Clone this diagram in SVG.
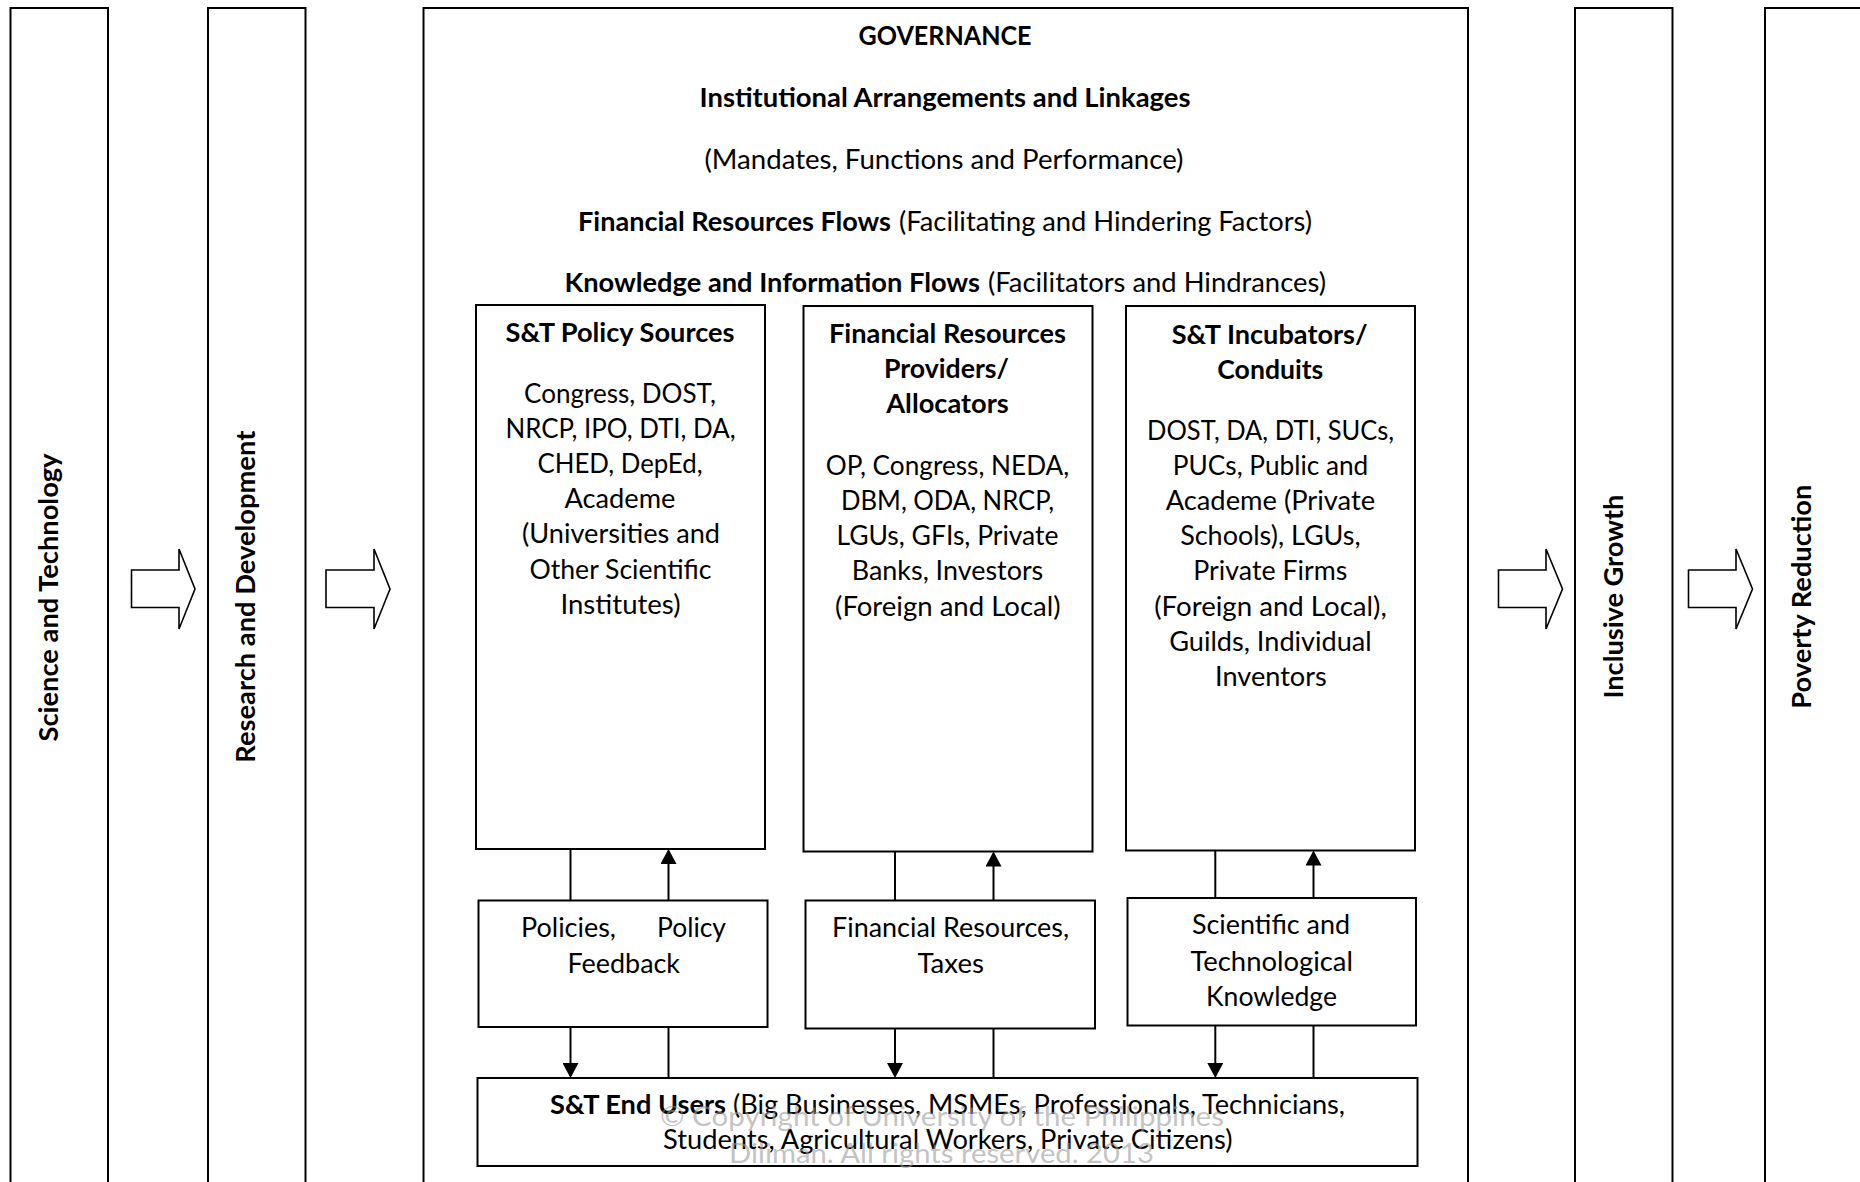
<svg xmlns="http://www.w3.org/2000/svg" width="1860" height="1182" viewBox="0 0 1860 1182">
<style>
.box{fill:#fff;stroke:#000;stroke-width:2}
.t{font-family:Lato,"Open Sans","Liberation Sans",sans-serif;font-size:26px;fill:#000;text-anchor:middle}
.s{text-anchor:start}
.b{font-weight:bold}
.conn{stroke:#000;stroke-width:2;fill:none}
.blk{fill:#fff;stroke:#000;stroke-width:1.6;stroke-linejoin:miter}
.wm{font-family:Lato,"Open Sans","Liberation Sans",sans-serif;font-size:26px;fill:#9a9a9a;fill-opacity:0.6;text-anchor:middle}
</style>
<defs>
<marker id="ah" markerUnits="userSpaceOnUse" markerWidth="15" markerHeight="16" refX="13" refY="8" orient="auto">
<path d="M0,0 L15,8 L0,16 Z" fill="#000"/>
</marker>
</defs>
<rect width="1860" height="1182" fill="#fff"/>

<g id="node-science-technology">
<rect class="box" x="10.5" y="8" width="97.5" height="1200"/>
<text class="t b" transform="translate(58,597.5) rotate(-90)" textLength="288" lengthAdjust="spacingAndGlyphs">Science and Technology</text>
</g>
<g id="node-research-development">
<rect class="box" x="208" y="8" width="97.5" height="1200"/>
<text class="t b" transform="translate(255,596.7) rotate(-90)" textLength="332" lengthAdjust="spacingAndGlyphs">Research and Development</text>
</g>
<g id="node-governance">
<rect class="box" x="423.5" y="8" width="1044.5" height="1200"/>
<text class="t b" x="945" y="45" textLength="173" lengthAdjust="spacingAndGlyphs">GOVERNANCE</text>
<text class="t b" x="945" y="107" textLength="491" lengthAdjust="spacingAndGlyphs">Institutional Arrangements and Linkages</text>
<text class="t" x="944" y="168.5" textLength="479" lengthAdjust="spacingAndGlyphs">(Mandates, Functions and Performance)</text>
<text class="t s b" x="578" y="230.5" textLength="313" lengthAdjust="spacingAndGlyphs">Financial Resources Flows</text>
<text class="t s" x="899" y="230.5" textLength="413" lengthAdjust="spacingAndGlyphs">(Facilitating and Hindering Factors)</text>
<text class="t s b" x="564.5" y="292" textLength="415.5" lengthAdjust="spacingAndGlyphs">Knowledge and Information Flows</text>
<text class="t s" x="988" y="292" textLength="338" lengthAdjust="spacingAndGlyphs">(Facilitators and Hindrances)</text>
</g>
<g id="node-inclusive-growth">
<rect class="box" x="1575" y="8" width="97.5" height="1200"/>
<text class="t b" transform="translate(1623,596.6) rotate(-90)" textLength="204" lengthAdjust="spacingAndGlyphs">Inclusive Growth</text>
</g>
<g id="node-poverty-reduction">
<rect class="box" x="1765" y="8" width="120" height="1200"/>
<text class="t b" transform="translate(1811,596.7) rotate(-90)" textLength="224" lengthAdjust="spacingAndGlyphs">Poverty Reduction</text>
</g>

<g id="node-policy-sources">
<rect class="box" x="476" y="305" width="289" height="544"/>
<text class="t b" x="620" y="341.5" textLength="229" lengthAdjust="spacingAndGlyphs">S&amp;T Policy Sources</text>
<text class="t" x="620" y="403" textLength="192" lengthAdjust="spacingAndGlyphs">Congress, DOST,</text>
<text class="t" x="620.5" y="438" textLength="230" lengthAdjust="spacingAndGlyphs">NRCP, IPO, DTI, DA,</text>
<text class="t" x="620" y="473" textLength="165" lengthAdjust="spacingAndGlyphs">CHED, DepEd,</text>
<text class="t" x="620" y="508.3" textLength="111" lengthAdjust="spacingAndGlyphs">Academe</text>
<text class="t" x="621" y="543.4" textLength="198" lengthAdjust="spacingAndGlyphs">(Universities and</text>
<text class="t" x="620.5" y="578.6" textLength="182" lengthAdjust="spacingAndGlyphs">Other Scientific</text>
<text class="t" x="620.5" y="613.7" textLength="120" lengthAdjust="spacingAndGlyphs">Institutes)</text>
</g>
<g id="node-financial-providers">
<rect class="box" x="803.5" y="306" width="289" height="545.5"/>
<text class="t b" x="947.5" y="343" textLength="237" lengthAdjust="spacingAndGlyphs">Financial Resources</text>
<text class="t b" x="946.5" y="378" textLength="125" lengthAdjust="spacingAndGlyphs">Providers/</text>
<text class="t b" x="947.5" y="413" textLength="122.5" lengthAdjust="spacingAndGlyphs">Allocators</text>
<text class="t" x="947.5" y="475" textLength="243.5" lengthAdjust="spacingAndGlyphs">OP, Congress, NEDA,</text>
<text class="t" x="947.5" y="510" textLength="213" lengthAdjust="spacingAndGlyphs">DBM, ODA, NRCP,</text>
<text class="t" x="947.5" y="545.3" textLength="222" lengthAdjust="spacingAndGlyphs">LGUs, GFIs, Private</text>
<text class="t" x="947.5" y="580.4" textLength="191.5" lengthAdjust="spacingAndGlyphs">Banks, Investors</text>
<text class="t" x="947.8" y="615.6" textLength="225.5" lengthAdjust="spacingAndGlyphs">(Foreign and Local)</text>
</g>
<g id="node-incubators">
<rect class="box" x="1126" y="306" width="289" height="544.5"/>
<text class="t b" x="1269.7" y="343.6" textLength="196" lengthAdjust="spacingAndGlyphs">S&amp;T Incubators/</text>
<text class="t b" x="1270.3" y="378.8" textLength="106" lengthAdjust="spacingAndGlyphs">Conduits</text>
<text class="t" x="1270.6" y="439.8" textLength="247" lengthAdjust="spacingAndGlyphs">DOST, DA, DTI, SUCs,</text>
<text class="t" x="1270.5" y="475" textLength="195.5" lengthAdjust="spacingAndGlyphs">PUCs, Public and</text>
<text class="t" x="1270.4" y="510" textLength="209.5" lengthAdjust="spacingAndGlyphs">Academe (Private</text>
<text class="t" x="1270.4" y="545.3" textLength="180.5" lengthAdjust="spacingAndGlyphs">Schools), LGUs,</text>
<text class="t" x="1270.3" y="580.4" textLength="154" lengthAdjust="spacingAndGlyphs">Private Firms</text>
<text class="t" x="1270.5" y="615.6" textLength="232.5" lengthAdjust="spacingAndGlyphs">(Foreign and Local),</text>
<text class="t" x="1270.5" y="650.7" textLength="202.5" lengthAdjust="spacingAndGlyphs">Guilds, Individual</text>
<text class="t" x="1270.9" y="685.9" textLength="111.7" lengthAdjust="spacingAndGlyphs">Inventors</text>
</g>

<g id="node-policies">
<rect class="box" x="478.5" y="900.5" width="289" height="126.5"/>
<text class="t s" x="521" y="936.7" textLength="95" lengthAdjust="spacingAndGlyphs">Policies,</text>
<text class="t s" x="657" y="936.7" textLength="69" lengthAdjust="spacingAndGlyphs">Policy</text>
<text class="t" x="623.8" y="972.7" textLength="112.5" lengthAdjust="spacingAndGlyphs">Feedback</text>
</g>
<g id="node-financial-resources">
<rect class="box" x="805.5" y="900.5" width="289.5" height="128"/>
<text class="t" x="950.5" y="936.7" textLength="237" lengthAdjust="spacingAndGlyphs">Financial Resources,</text>
<text class="t" x="950.7" y="972.7" textLength="66.5" lengthAdjust="spacingAndGlyphs">Taxes</text>
</g>
<g id="node-st-knowledge">
<rect class="box" x="1127.5" y="898" width="288.5" height="127.5"/>
<text class="t" x="1271" y="934.3" textLength="158" lengthAdjust="spacingAndGlyphs">Scientific and</text>
<text class="t" x="1271.7" y="970.5" textLength="162.5" lengthAdjust="spacingAndGlyphs">Technological</text>
<text class="t" x="1271.5" y="1005.8" textLength="131" lengthAdjust="spacingAndGlyphs">Knowledge</text>
</g>
<g id="node-end-users">
<rect class="box" x="477.5" y="1078" width="940" height="88"/>
<text class="t s b" x="550" y="1114.3" textLength="176" lengthAdjust="spacingAndGlyphs">S&amp;T End Users</text>
<text class="t s" x="733" y="1114.3" textLength="612" lengthAdjust="spacingAndGlyphs">(Big Businesses, MSMEs, Professionals, Technicians,</text>
<text class="t" x="947.8" y="1149" textLength="569.5" lengthAdjust="spacingAndGlyphs">Students, Agricultural Workers, Private Citizens)</text>
</g>

<g id="connectors">
<polygon class="blk" points="131.5,570 179,570 179,549 195,589 179,629 179,607.5 131.5,607.5"/>
<polygon class="blk" points="326,570 374,570 374,549 390,589 374,629 374,607.5 326,607.5"/>
<polygon class="blk" points="1498.5,570 1546,570 1546,549 1562.5,589 1546,629 1546,607.5 1498.5,607.5"/>
<polygon class="blk" points="1688.5,570 1736,570 1736,549 1752.5,589 1736,629 1736,607.5 1688.5,607.5"/>

<line class="conn" x1="570.5" y1="849" x2="570.5" y2="900.5"/>
<line class="conn" x1="668.5" y1="900.5" x2="668.5" y2="851" marker-end="url(#ah)"/>
<line class="conn" x1="570.5" y1="1027" x2="570.5" y2="1076" marker-end="url(#ah)"/>
<line class="conn" x1="668.5" y1="1078" x2="668.5" y2="1027"/>

<line class="conn" x1="895" y1="851.5" x2="895" y2="900.5"/>
<line class="conn" x1="993.5" y1="900.5" x2="993.5" y2="853.5" marker-end="url(#ah)"/>
<line class="conn" x1="895" y1="1028.5" x2="895" y2="1076" marker-end="url(#ah)"/>
<line class="conn" x1="993.5" y1="1078" x2="993.5" y2="1028.5"/>

<line class="conn" x1="1215.3" y1="850.5" x2="1215.3" y2="898"/>
<line class="conn" x1="1313.5" y1="898" x2="1313.5" y2="852.5" marker-end="url(#ah)"/>
<line class="conn" x1="1215.3" y1="1025.5" x2="1215.3" y2="1076" marker-end="url(#ah)"/>
<line class="conn" x1="1313.5" y1="1078" x2="1313.5" y2="1025.5"/>
</g>

<g id="watermark">
<text class="wm" x="942" y="1126" textLength="564" lengthAdjust="spacingAndGlyphs">© Copyright of University of the Philippines</text>
<text class="wm" x="941.5" y="1162.7" textLength="425" lengthAdjust="spacingAndGlyphs">Diliman. All rights reserved. 2013</text>
</g>
</svg>
